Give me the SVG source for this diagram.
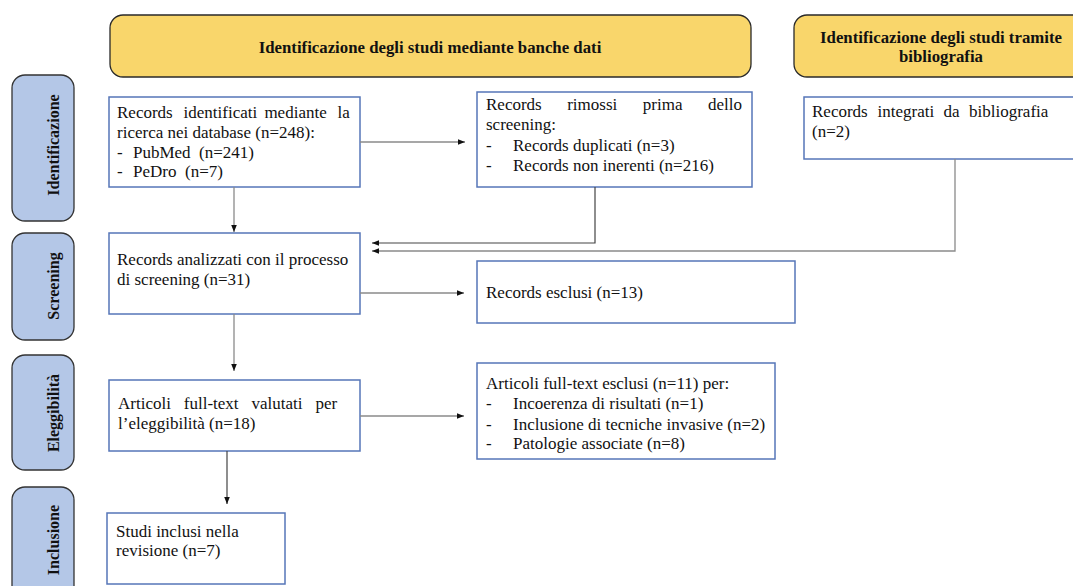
<svg xmlns="http://www.w3.org/2000/svg" width="1073" height="586" viewBox="0 0 1073 586" font-family="'Liberation Serif', 'Times New Roman', 'DejaVu Serif', serif">
<style>
.hdr{fill:#f9d66b;stroke:#2a2a2a;stroke-width:1.3}
.side{fill:#b4c7e7;stroke:#333;stroke-width:1.3}
.box{fill:#fff;stroke:#5676b8;stroke-width:1.5}
.ht{font-weight:bold;font-size:16.8px;fill:#111;text-anchor:middle}
.st{font-weight:bold;font-size:16px;fill:#111;text-anchor:middle}
.t{font-size:17px;fill:#111}
.c{fill:none;stroke:#8a8a8a;stroke-width:1.3}
.cd{fill:none;stroke:#444;stroke-width:1.2}
</style>
<defs>
<marker id="ah" viewBox="0 0 10 10" refX="10" refY="5" markerWidth="7" markerHeight="7" markerUnits="userSpaceOnUse" orient="auto">
<path d="M0,1 L10,5 L0,9 Z" fill="#111"/>
</marker>
</defs>
<rect width="1073" height="586" fill="#fff"/>

<g id="hdr-db"><rect class="hdr" x="110" y="15" width="641" height="62" rx="13"/><text class="ht" x="430" y="53">Identificazione degli studi mediante banche dati</text></g>
<g id="hdr-bib"><rect class="hdr" x="794" y="15" width="295" height="62" rx="13"/><text class="ht" x="941" y="43">Identificazione degli studi tramite</text><text class="ht" x="941" y="62">bibliografia</text></g>

<g id="side-id"><rect class="side" x="12" y="75" width="62" height="146" rx="13"/><text class="st" transform="translate(59,145) rotate(-90)">Identificazione</text></g>
<g id="side-scr"><rect class="side" x="12" y="233" width="62" height="107" rx="13"/><text class="st" transform="translate(59,286) rotate(-90)">Screening</text></g>
<g id="side-el"><rect class="side" x="12" y="355" width="62" height="115" rx="13"/><text class="st" transform="translate(59,413) rotate(-90)">Eleggibilità</text></g>
<g id="side-inc"><rect class="side" x="12" y="487" width="62" height="120" rx="13"/><text class="st" transform="translate(59,540) rotate(-90)">Inclusione</text></g>

<g id="b-records"><rect class="box" x="109" y="97" width="251" height="90"/>
<text class="t"><tspan x="117" y="118">Records</tspan><tspan x="183.6" y="118">identificati</tspan><tspan x="264.4" y="118">mediante</tspan><tspan x="337.6" y="118">la</tspan></text>
<text class="t" x="117" y="138">ricerca nei database (n=248):</text>
<text class="t"><tspan x="117" y="158">-</tspan><tspan x="133" y="158">PubMed</tspan><tspan x="199" y="158">(n=241)</tspan></text>
<text class="t"><tspan x="117" y="177">-</tspan><tspan x="133" y="177">PeDro</tspan><tspan x="185" y="177">(n=7)</tspan></text></g>

<g id="b-removed"><rect class="box" x="477" y="92" width="275" height="95"/>
<text class="t"><tspan x="486" y="110">Records</tspan><tspan x="567.2" y="110">rimossi</tspan><tspan x="642.8" y="110">prima</tspan><tspan x="708" y="110">dello</tspan></text>
<text class="t" x="486" y="130">screening:</text>
<text class="t"><tspan x="486" y="151">-</tspan><tspan x="513" y="151">Records duplicati (n=3)</tspan></text>
<text class="t"><tspan x="486" y="171">-</tspan><tspan x="513" y="171">Records non inerenti (n=216)</tspan></text></g>

<g id="b-bib"><rect class="box" x="804" y="97" width="290" height="62"/>
<text class="t"><tspan x="812" y="117">Records</tspan><tspan x="877.5" y="117">integrati</tspan><tspan x="943.5" y="117">da</tspan><tspan x="969" y="117">bibliografia</tspan></text>
<text class="t" x="812" y="137">(n=2)</text></g>

<g id="b-screen"><rect class="box" x="109" y="233" width="251" height="81"/>
<text class="t" x="117" y="265">Records analizzati con il processo</text>
<text class="t" x="117" y="285">di screening (n=31)</text></g>

<g id="b-excl"><rect class="box" x="477" y="261" width="318" height="62"/>
<text class="t" x="486" y="298">Records esclusi (n=13)</text></g>

<g id="b-full"><rect class="box" x="109" y="380" width="251" height="71"/>
<text class="t"><tspan x="118" y="409">Articoli</tspan><tspan x="183.8" y="409">full-text</tspan><tspan x="251.5" y="409">valutati</tspan><tspan x="315.4" y="409">per</tspan></text>
<text class="t" x="118" y="429">l’eleggibilità (n=18)</text></g>

<g id="b-fullexcl"><rect class="box" x="477" y="363" width="298" height="96"/>
<text class="t" x="486" y="389">Articoli full-text esclusi (n=11) per:</text>
<text class="t"><tspan x="486" y="409">-</tspan><tspan x="513" y="409">Incoerenza di risultati (n=1)</tspan></text>
<text class="t"><tspan x="486" y="430">-</tspan><tspan x="513" y="430">Inclusione di tecniche invasive (n=2)</tspan></text>
<text class="t"><tspan x="486" y="449">-</tspan><tspan x="513" y="449">Patologie associate (n=8)</tspan></text></g>

<g id="b-incl"><rect class="box" x="107" y="513" width="178" height="71"/>
<text class="t" x="116" y="537">Studi inclusi nella</text>
<text class="t" x="116" y="556">revisione (n=7)</text></g>

<g id="connectors">
<path class="c" d="M360,142 H465" marker-end="url(#ah)"/>
<path class="c" d="M234,187 V232" marker-end="url(#ah)"/>
<path class="cd" d="M595,187 V243 H372" marker-end="url(#ah)"/>
<path class="c" d="M955,159 V251 H372" marker-end="url(#ah)"/>
<path class="c" d="M360,293 H464" marker-end="url(#ah)"/>
<path class="c" d="M234,314 V371" marker-end="url(#ah)"/>
<path class="c" d="M360,416 H464" marker-end="url(#ah)"/>
<path class="cd" d="M227,451 V504" marker-end="url(#ah)"/>
</g>
</svg>
